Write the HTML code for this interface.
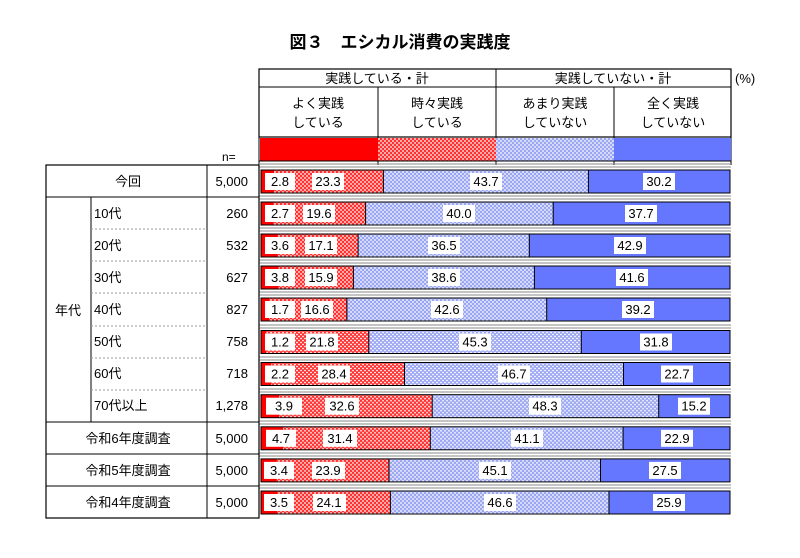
<!DOCTYPE html>
<html><head><meta charset="utf-8"><style>
body{margin:0;background:#fff;}
svg{display:block;font-family:"Liberation Sans","Noto Sans CJK JP",sans-serif;}
</style></head><body>
<svg width="800" height="558" viewBox="0 0 800 558" xmlns="http://www.w3.org/2000/svg">
<defs>
<pattern id="pr" width="4" height="4" patternUnits="userSpaceOnUse"><rect width="4" height="4" fill="#ff3030"/><circle cx="1" cy="1" r="0.9" fill="#fff"/><circle cx="3" cy="3" r="0.9" fill="#fff"/></pattern>
<pattern id="pb" width="4" height="4" patternUnits="userSpaceOnUse"><rect width="4" height="4" fill="#9aa6f2"/><circle cx="1" cy="1" r="0.9" fill="#fff"/><circle cx="3" cy="3" r="0.9" fill="#fff"/></pattern>
</defs>
<text x="400" y="48" text-anchor="middle" font-size="17" font-weight="bold">図３　エシカル消費の実践度</text>
<rect x="259" y="69" width="472" height="68" fill="none" stroke="#000" stroke-width="1.2"/>
<line x1="259" y1="87" x2="731" y2="87" stroke="#000"/>
<line x1="496" y1="69" x2="496" y2="165" stroke="#000"/>
<line x1="378" y1="87" x2="378" y2="165" stroke="#000"/>
<line x1="614" y1="87" x2="614" y2="165" stroke="#000"/>
<line x1="259" y1="137" x2="259" y2="165" stroke="#000"/>
<line x1="731" y1="137" x2="731" y2="165" stroke="#000"/>
<g font-size="13" text-anchor="middle">
<text x="377" y="83">実践している・計</text>
<text x="613" y="83">実践していない・計</text>
<text x="318" y="108">よく実践</text><text x="318" y="127">している</text>
<text x="437" y="108">時々実践</text><text x="437" y="127">している</text>
<text x="555" y="108">あまり実践</text><text x="555" y="127">していない</text>
<text x="673" y="108">全く実践</text><text x="673" y="127">していない</text>
</g>
<text x="735" y="83" font-size="13">(%)</text>
<rect x="260" y="138" width="118" height="23" fill="#ff0000"/>
<rect x="378" y="138" width="118" height="23" fill="url(#pr)"/>
<rect x="496" y="138" width="118" height="23" fill="url(#pb)"/>
<rect x="614" y="138" width="117" height="23" fill="#6677ff"/>
<line x1="259" y1="161" x2="731" y2="161" stroke="#000"/>
<text x="222" y="161" font-size="12">n=</text>
<rect x="46" y="165" width="213" height="353" fill="none" stroke="#000" stroke-width="1.2"/>
<line x1="207" y1="165" x2="207" y2="518" stroke="#000"/>
<line x1="91" y1="197" x2="91" y2="422" stroke="#000"/>
<g stroke="#000"><line x1="46" y1="197" x2="259" y2="197"/><line x1="46" y1="422" x2="259" y2="422"/><line x1="46" y1="454" x2="259" y2="454"/><line x1="46" y1="486" x2="259" y2="486"/></g>
<g stroke="#999" stroke-dasharray="2,2"><line x1="91" y1="229" x2="207" y2="229"/><line x1="91" y1="261" x2="207" y2="261"/><line x1="91" y1="293" x2="207" y2="293"/><line x1="91" y1="326" x2="207" y2="326"/><line x1="91" y1="358" x2="207" y2="358"/><line x1="91" y1="390" x2="207" y2="390"/></g>
<g font-size="13">
<text x="128" y="186" text-anchor="middle">今回</text>
<text x="68" y="315" text-anchor="middle">年代</text>
<text x="94" y="218">10代</text><text x="94" y="250">20代</text><text x="94" y="282">30代</text><text x="94" y="314">40代</text><text x="94" y="346">50代</text><text x="94" y="378">60代</text><text x="94" y="410">70代以上</text>
<text x="128" y="443" text-anchor="middle">令和6年度調査</text>
<text x="128" y="475" text-anchor="middle">令和5年度調査</text>
<text x="128" y="507" text-anchor="middle">令和4年度調査</text>
</g>
<g font-size="13" text-anchor="end">
<text x="248" y="186">5,000</text><text x="248" y="218">260</text><text x="248" y="250">532</text><text x="248" y="282">627</text><text x="248" y="314">827</text><text x="248" y="346">758</text><text x="248" y="378">718</text><text x="248" y="410">1,278</text><text x="248" y="443">5,000</text><text x="248" y="475">5,000</text><text x="248" y="507">5,000</text>
</g>
<g stroke="#888" stroke-width="1">
<line x1="259" y1="164" x2="731" y2="164"/><line x1="259" y1="167" x2="731" y2="167"/>
<line x1="259" y1="196" x2="731" y2="196"/><line x1="259" y1="199" x2="731" y2="199"/>
<line x1="259" y1="228" x2="731" y2="228"/><line x1="259" y1="231" x2="731" y2="231"/>
<line x1="259" y1="260" x2="731" y2="260"/><line x1="259" y1="263" x2="731" y2="263"/>
<line x1="259" y1="292" x2="731" y2="292"/><line x1="259" y1="295" x2="731" y2="295"/>
<line x1="259" y1="325" x2="731" y2="325"/><line x1="259" y1="328" x2="731" y2="328"/>
<line x1="259" y1="357" x2="731" y2="357"/><line x1="259" y1="360" x2="731" y2="360"/>
<line x1="259" y1="389" x2="731" y2="389"/><line x1="259" y1="392" x2="731" y2="392"/>
<line x1="259" y1="421" x2="731" y2="421"/><line x1="259" y1="424" x2="731" y2="424"/>
<line x1="259" y1="453" x2="731" y2="453"/><line x1="259" y1="456" x2="731" y2="456"/>
<line x1="259" y1="485" x2="731" y2="485"/><line x1="259" y1="488" x2="731" y2="488"/>
</g>
<line x1="259" y1="165" x2="259" y2="518" stroke="#000"/>
<g font-size="13" text-anchor="middle">
<g transform="translate(0,165)">
<rect x="261" y="5" width="13.1" height="23" fill="#f00"/><rect x="274.1" y="5" width="109.3" height="23" fill="url(#pr)"/><rect x="383.4" y="5" width="205" height="23" fill="url(#pb)"/><rect x="588.4" y="5" width="141.6" height="23" fill="#6677ff"/>
<rect x="261" y="5" width="469" height="23" fill="none" stroke="#000"/><line x1="383.4" y1="5" x2="383.4" y2="28" stroke="#000"/><line x1="588.4" y1="5" x2="588.4" y2="28" stroke="#000"/>
<rect x="265" y="8" width="30" height="17" fill="#fff"/><rect x="312" y="8" width="32" height="17" fill="#fff"/><rect x="470" y="8" width="32" height="17" fill="#fff"/><rect x="643" y="8" width="32" height="17" fill="#fff"/>
<text x="280" y="21">2.8</text><text x="328" y="21">23.3</text><text x="486" y="21">43.7</text><text x="659" y="21">30.2</text></g>

<g transform="translate(0,197)">
<rect x="261" y="5" width="12.7" height="23" fill="#f00"/><rect x="273.7" y="5" width="91.9" height="23" fill="url(#pr)"/><rect x="365.6" y="5" width="187.6" height="23" fill="url(#pb)"/><rect x="553.2" y="5" width="176.8" height="23" fill="#6677ff"/>
<rect x="261" y="5" width="469" height="23" fill="none" stroke="#000"/><line x1="365.6" y1="5" x2="365.6" y2="28" stroke="#000"/><line x1="553.2" y1="5" x2="553.2" y2="28" stroke="#000"/>
<rect x="265" y="8" width="30" height="17" fill="#fff"/><rect x="303" y="8" width="32" height="17" fill="#fff"/><rect x="443" y="8" width="32" height="17" fill="#fff"/><rect x="625" y="8" width="32" height="17" fill="#fff"/>
<text x="280" y="21">2.7</text><text x="319" y="21">19.6</text><text x="459" y="21">40.0</text><text x="641" y="21">37.7</text></g>

<g transform="translate(0,229)">
<rect x="261" y="5" width="16.9" height="23" fill="#f00"/><rect x="277.9" y="5" width="80.2" height="23" fill="url(#pr)"/><rect x="358.1" y="5" width="171.2" height="23" fill="url(#pb)"/><rect x="529.3" y="5" width="200.7" height="23" fill="#6677ff"/>
<rect x="261" y="5" width="469" height="23" fill="none" stroke="#000"/><line x1="358.1" y1="5" x2="358.1" y2="28" stroke="#000"/><line x1="529.3" y1="5" x2="529.3" y2="28" stroke="#000"/>
<rect x="265" y="8" width="30" height="17" fill="#fff"/><rect x="305" y="8" width="32" height="17" fill="#fff"/><rect x="428" y="8" width="32" height="17" fill="#fff"/><rect x="614" y="8" width="32" height="17" fill="#fff"/>
<text x="280" y="21">3.6</text><text x="321" y="21">17.1</text><text x="444" y="21">36.5</text><text x="630" y="21">42.9</text></g>

<g transform="translate(0,261)">
<rect x="261" y="5" width="17.8" height="23" fill="#f00"/><rect x="278.8" y="5" width="74.6" height="23" fill="url(#pr)"/><rect x="353.4" y="5" width="181" height="23" fill="url(#pb)"/><rect x="534.4" y="5" width="195.6" height="23" fill="#6677ff"/>
<rect x="261" y="5" width="469" height="23" fill="none" stroke="#000"/><line x1="353.4" y1="5" x2="353.4" y2="28" stroke="#000"/><line x1="534.4" y1="5" x2="534.4" y2="28" stroke="#000"/>
<rect x="265" y="8" width="30" height="17" fill="#fff"/><rect x="305" y="8" width="32" height="17" fill="#fff"/><rect x="428" y="8" width="32" height="17" fill="#fff"/><rect x="616" y="8" width="32" height="17" fill="#fff"/>
<text x="280" y="21">3.8</text><text x="321" y="21">15.9</text><text x="444" y="21">38.6</text><text x="632" y="21">41.6</text></g>

<g transform="translate(0,293)">
<rect x="261" y="5" width="8" height="23" fill="#f00"/><rect x="269" y="5" width="77.9" height="23" fill="url(#pr)"/><rect x="346.9" y="5" width="199.8" height="23" fill="url(#pb)"/><rect x="546.7" y="5" width="183.3" height="23" fill="#6677ff"/>
<rect x="261" y="5" width="469" height="23" fill="none" stroke="#000"/><line x1="346.9" y1="5" x2="346.9" y2="28" stroke="#000"/><line x1="546.7" y1="5" x2="546.7" y2="28" stroke="#000"/>
<rect x="265" y="8" width="30" height="17" fill="#fff"/><rect x="301" y="8" width="32" height="17" fill="#fff"/><rect x="431" y="8" width="32" height="17" fill="#fff"/><rect x="622" y="8" width="32" height="17" fill="#fff"/>
<text x="280" y="21">1.7</text><text x="317" y="21">16.6</text><text x="447" y="21">42.6</text><text x="638" y="21">39.2</text></g>

<g transform="translate(0,325.5)">
<rect x="261" y="5" width="5.6" height="23" fill="#f00"/><rect x="266.6" y="5" width="102.2" height="23" fill="url(#pr)"/><rect x="368.8" y="5" width="212.5" height="23" fill="url(#pb)"/><rect x="581.3" y="5" width="148.7" height="23" fill="#6677ff"/>
<rect x="261" y="5" width="469" height="23" fill="none" stroke="#000"/><line x1="368.8" y1="5" x2="368.8" y2="28" stroke="#000"/><line x1="581.3" y1="5" x2="581.3" y2="28" stroke="#000"/>
<rect x="265" y="8" width="30" height="17" fill="#fff"/><rect x="306" y="8" width="32" height="17" fill="#fff"/><rect x="459" y="8" width="32" height="17" fill="#fff"/><rect x="640" y="8" width="32" height="17" fill="#fff"/>
<text x="280" y="21">1.2</text><text x="322" y="21">21.8</text><text x="475" y="21">45.3</text><text x="656" y="21">31.8</text></g>

<g transform="translate(0,357.5)">
<rect x="261" y="5" width="10.3" height="23" fill="#f00"/><rect x="271.3" y="5" width="133.2" height="23" fill="url(#pr)"/><rect x="404.5" y="5" width="219" height="23" fill="url(#pb)"/><rect x="623.5" y="5" width="106.5" height="23" fill="#6677ff"/>
<rect x="261" y="5" width="469" height="23" fill="none" stroke="#000"/><line x1="404.5" y1="5" x2="404.5" y2="28" stroke="#000"/><line x1="623.5" y1="5" x2="623.5" y2="28" stroke="#000"/>
<rect x="265" y="8" width="30" height="17" fill="#fff"/><rect x="318" y="8" width="32" height="17" fill="#fff"/><rect x="498" y="8" width="32" height="17" fill="#fff"/><rect x="661" y="8" width="32" height="17" fill="#fff"/>
<text x="280" y="21">2.2</text><text x="334" y="21">28.4</text><text x="514" y="21">46.7</text><text x="677" y="21">22.7</text></g>

<g transform="translate(0,389.7)">
<rect x="261" y="5" width="18.3" height="23" fill="#f00"/><rect x="279.3" y="5" width="152.9" height="23" fill="url(#pr)"/><rect x="432.2" y="5" width="226.5" height="23" fill="url(#pb)"/><rect x="658.7" y="5" width="71.3" height="23" fill="#6677ff"/>
<rect x="261" y="5" width="469" height="23" fill="none" stroke="#000"/><line x1="432.2" y1="5" x2="432.2" y2="28" stroke="#000"/><line x1="658.7" y1="5" x2="658.7" y2="28" stroke="#000"/>
<rect x="266" y="8" width="36" height="17" fill="#fff"/><rect x="325" y="8" width="34" height="17" fill="#fff"/><rect x="529" y="8" width="32" height="17" fill="#fff"/><rect x="678" y="8" width="32" height="17" fill="#fff"/>
<text x="284" y="21">3.9</text><text x="342" y="21">32.6</text><text x="545" y="21">48.3</text><text x="694" y="21">15.2</text></g>

<g transform="translate(0,421.8)">
<rect x="261" y="5" width="22" height="23" fill="#f00"/><rect x="283" y="5" width="147.3" height="23" fill="url(#pr)"/><rect x="430.3" y="5" width="192.8" height="23" fill="url(#pb)"/><rect x="623.1" y="5" width="106.9" height="23" fill="#6677ff"/>
<rect x="261" y="5" width="469" height="23" fill="none" stroke="#000"/><line x1="430.3" y1="5" x2="430.3" y2="28" stroke="#000"/><line x1="623.1" y1="5" x2="623.1" y2="28" stroke="#000"/>
<rect x="266" y="8" width="30" height="17" fill="#fff"/><rect x="323" y="8" width="34" height="17" fill="#fff"/><rect x="511" y="8" width="32" height="17" fill="#fff"/><rect x="661" y="8" width="32" height="17" fill="#fff"/>
<text x="281" y="21">4.7</text><text x="340" y="21">31.4</text><text x="527" y="21">41.1</text><text x="677" y="21">22.9</text></g>

<g transform="translate(0,453.9)">
<rect x="261" y="5" width="15.9" height="23" fill="#f00"/><rect x="276.9" y="5" width="112.1" height="23" fill="url(#pr)"/><rect x="389" y="5" width="211.5" height="23" fill="url(#pb)"/><rect x="600.5" y="5" width="129.5" height="23" fill="#6677ff"/>
<rect x="261" y="5" width="469" height="23" fill="none" stroke="#000"/><line x1="389" y1="5" x2="389" y2="28" stroke="#000"/><line x1="600.5" y1="5" x2="600.5" y2="28" stroke="#000"/>
<rect x="264" y="8" width="30" height="17" fill="#fff"/><rect x="312" y="8" width="33" height="17" fill="#fff"/><rect x="479" y="8" width="32" height="17" fill="#fff"/><rect x="649" y="8" width="32" height="17" fill="#fff"/>
<text x="279" y="21">3.4</text><text x="328" y="21">23.9</text><text x="495" y="21">45.1</text><text x="665" y="21">27.5</text></g>

<g transform="translate(0,486)">
<rect x="261" y="5" width="16.4" height="23" fill="#f00"/><rect x="277.4" y="5" width="113" height="23" fill="url(#pr)"/><rect x="390.4" y="5" width="218.6" height="23" fill="url(#pb)"/><rect x="609" y="5" width="121" height="23" fill="#6677ff"/>
<rect x="261" y="5" width="469" height="23" fill="none" stroke="#000"/><line x1="390.4" y1="5" x2="390.4" y2="28" stroke="#000"/><line x1="609" y1="5" x2="609" y2="28" stroke="#000"/>
<rect x="264" y="8" width="30" height="17" fill="#fff"/><rect x="313" y="8" width="33" height="17" fill="#fff"/><rect x="484" y="8" width="32" height="17" fill="#fff"/><rect x="653" y="8" width="32" height="17" fill="#fff"/>
<text x="279" y="21">3.5</text><text x="329" y="21">24.1</text><text x="500" y="21">46.6</text><text x="669" y="21">25.9</text></g>
</g>
</svg>
</body></html>
